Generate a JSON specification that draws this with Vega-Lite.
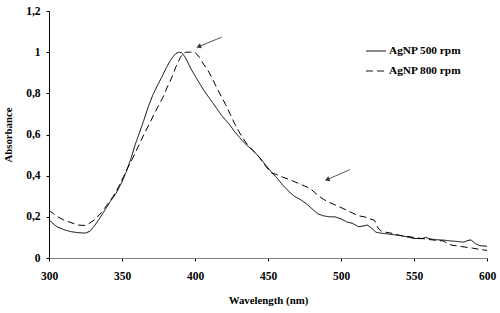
{
  "$schema": "https://vega.github.io/schema/vega-lite/v6.json",
  "autosize": {"type": "none"},
  "width": 438,
  "height": 247,
  "padding": {"left": 49, "top": 11, "right": 13, "bottom": 55},
  "background": "white",
  "config": {
    "view": {"stroke": null},
    "font": "Liberation Serif",
    "axis": {"grid": false, "labelFlush": false, "labelFont": "Liberation Serif", "labelFontWeight": "bold", "labelFontSize": 11.5, "labelColor": "#000", "titleFont": "Liberation Serif", "titleFontWeight": "bold", "titleFontSize": 10.8, "titleColor": "#000", "tickColor": "#000", "tickSize": 3}
  },
  "datasets": {
    "spectra": [
      {"wl": 300, "abs": 0.187, "s": "AgNP 500 rpm"}, {"wl": 303, "abs": 0.165, "s": "AgNP 500 rpm"}, {"wl": 306, "abs": 0.15, "s": "AgNP 500 rpm"}, {"wl": 310, "abs": 0.138, "s": "AgNP 500 rpm"}, {"wl": 315, "abs": 0.128, "s": "AgNP 500 rpm"}, {"wl": 320, "abs": 0.123, "s": "AgNP 500 rpm"}, {"wl": 325, "abs": 0.121, "s": "AgNP 500 rpm"}, {"wl": 328, "abs": 0.13, "s": "AgNP 500 rpm"}, {"wl": 331, "abs": 0.155, "s": "AgNP 500 rpm"}, {"wl": 334, "abs": 0.185, "s": "AgNP 500 rpm"}, {"wl": 338, "abs": 0.23, "s": "AgNP 500 rpm"}, {"wl": 342, "abs": 0.275, "s": "AgNP 500 rpm"}, {"wl": 346, "abs": 0.315, "s": "AgNP 500 rpm"}, {"wl": 350, "abs": 0.37, "s": "AgNP 500 rpm"}, {"wl": 353, "abs": 0.42, "s": "AgNP 500 rpm"}, {"wl": 356, "abs": 0.48, "s": "AgNP 500 rpm"}, {"wl": 359, "abs": 0.55, "s": "AgNP 500 rpm"}, {"wl": 362, "abs": 0.61, "s": "AgNP 500 rpm"}, {"wl": 365, "abs": 0.67, "s": "AgNP 500 rpm"}, {"wl": 368, "abs": 0.735, "s": "AgNP 500 rpm"}, {"wl": 371, "abs": 0.79, "s": "AgNP 500 rpm"}, {"wl": 374, "abs": 0.835, "s": "AgNP 500 rpm"}, {"wl": 377, "abs": 0.875, "s": "AgNP 500 rpm"}, {"wl": 380, "abs": 0.92, "s": "AgNP 500 rpm"}, {"wl": 383, "abs": 0.958, "s": "AgNP 500 rpm"}, {"wl": 385, "abs": 0.978, "s": "AgNP 500 rpm"}, {"wl": 387, "abs": 0.994, "s": "AgNP 500 rpm"}, {"wl": 389, "abs": 1.0, "s": "AgNP 500 rpm"}, {"wl": 391, "abs": 0.997, "s": "AgNP 500 rpm"}, {"wl": 393, "abs": 0.978, "s": "AgNP 500 rpm"}, {"wl": 395, "abs": 0.952, "s": "AgNP 500 rpm"}, {"wl": 397, "abs": 0.922, "s": "AgNP 500 rpm"}, {"wl": 400, "abs": 0.885, "s": "AgNP 500 rpm"}, {"wl": 403, "abs": 0.85, "s": "AgNP 500 rpm"}, {"wl": 406, "abs": 0.815, "s": "AgNP 500 rpm"}, {"wl": 409, "abs": 0.785, "s": "AgNP 500 rpm"}, {"wl": 412, "abs": 0.755, "s": "AgNP 500 rpm"}, {"wl": 415, "abs": 0.725, "s": "AgNP 500 rpm"}, {"wl": 418, "abs": 0.695, "s": "AgNP 500 rpm"}, {"wl": 421, "abs": 0.67, "s": "AgNP 500 rpm"}, {"wl": 424, "abs": 0.645, "s": "AgNP 500 rpm"}, {"wl": 427, "abs": 0.615, "s": "AgNP 500 rpm"}, {"wl": 430, "abs": 0.59, "s": "AgNP 500 rpm"}, {"wl": 433, "abs": 0.565, "s": "AgNP 500 rpm"}, {"wl": 436, "abs": 0.545, "s": "AgNP 500 rpm"}, {"wl": 440, "abs": 0.52, "s": "AgNP 500 rpm"}, {"wl": 444, "abs": 0.49, "s": "AgNP 500 rpm"}, {"wl": 448, "abs": 0.455, "s": "AgNP 500 rpm"}, {"wl": 452, "abs": 0.42, "s": "AgNP 500 rpm"}, {"wl": 456, "abs": 0.39, "s": "AgNP 500 rpm"}, {"wl": 460, "abs": 0.355, "s": "AgNP 500 rpm"}, {"wl": 464, "abs": 0.325, "s": "AgNP 500 rpm"}, {"wl": 468, "abs": 0.3, "s": "AgNP 500 rpm"}, {"wl": 472, "abs": 0.285, "s": "AgNP 500 rpm"}, {"wl": 476, "abs": 0.265, "s": "AgNP 500 rpm"}, {"wl": 480, "abs": 0.24, "s": "AgNP 500 rpm"}, {"wl": 484, "abs": 0.215, "s": "AgNP 500 rpm"}, {"wl": 488, "abs": 0.205, "s": "AgNP 500 rpm"}, {"wl": 492, "abs": 0.2, "s": "AgNP 500 rpm"}, {"wl": 496, "abs": 0.2, "s": "AgNP 500 rpm"}, {"wl": 500, "abs": 0.19, "s": "AgNP 500 rpm"}, {"wl": 504, "abs": 0.175, "s": "AgNP 500 rpm"}, {"wl": 508, "abs": 0.168, "s": "AgNP 500 rpm"}, {"wl": 512, "abs": 0.152, "s": "AgNP 500 rpm"}, {"wl": 515, "abs": 0.155, "s": "AgNP 500 rpm"}, {"wl": 518, "abs": 0.16, "s": "AgNP 500 rpm"}, {"wl": 521, "abs": 0.145, "s": "AgNP 500 rpm"}, {"wl": 524, "abs": 0.125, "s": "AgNP 500 rpm"}, {"wl": 528, "abs": 0.12, "s": "AgNP 500 rpm"}, {"wl": 532, "abs": 0.117, "s": "AgNP 500 rpm"}, {"wl": 536, "abs": 0.113, "s": "AgNP 500 rpm"}, {"wl": 540, "abs": 0.11, "s": "AgNP 500 rpm"}, {"wl": 545, "abs": 0.103, "s": "AgNP 500 rpm"}, {"wl": 550, "abs": 0.095, "s": "AgNP 500 rpm"}, {"wl": 555, "abs": 0.094, "s": "AgNP 500 rpm"}, {"wl": 558, "abs": 0.1, "s": "AgNP 500 rpm"}, {"wl": 561, "abs": 0.093, "s": "AgNP 500 rpm"}, {"wl": 565, "abs": 0.089, "s": "AgNP 500 rpm"}, {"wl": 570, "abs": 0.087, "s": "AgNP 500 rpm"}, {"wl": 575, "abs": 0.083, "s": "AgNP 500 rpm"}, {"wl": 580, "abs": 0.08, "s": "AgNP 500 rpm"}, {"wl": 584, "abs": 0.077, "s": "AgNP 500 rpm"}, {"wl": 587, "abs": 0.085, "s": "AgNP 500 rpm"}, {"wl": 589, "abs": 0.088, "s": "AgNP 500 rpm"}, {"wl": 592, "abs": 0.07, "s": "AgNP 500 rpm"}, {"wl": 595, "abs": 0.06, "s": "AgNP 500 rpm"}, {"wl": 600, "abs": 0.057, "s": "AgNP 500 rpm"},
      {"wl": 300, "abs": 0.232, "s": "AgNP 800 rpm"}, {"wl": 303, "abs": 0.215, "s": "AgNP 800 rpm"}, {"wl": 306, "abs": 0.2, "s": "AgNP 800 rpm"}, {"wl": 310, "abs": 0.185, "s": "AgNP 800 rpm"}, {"wl": 315, "abs": 0.172, "s": "AgNP 800 rpm"}, {"wl": 320, "abs": 0.16, "s": "AgNP 800 rpm"}, {"wl": 325, "abs": 0.158, "s": "AgNP 800 rpm"}, {"wl": 328, "abs": 0.17, "s": "AgNP 800 rpm"}, {"wl": 332, "abs": 0.19, "s": "AgNP 800 rpm"}, {"wl": 336, "abs": 0.222, "s": "AgNP 800 rpm"}, {"wl": 340, "abs": 0.26, "s": "AgNP 800 rpm"}, {"wl": 344, "abs": 0.3, "s": "AgNP 800 rpm"}, {"wl": 348, "abs": 0.35, "s": "AgNP 800 rpm"}, {"wl": 351, "abs": 0.395, "s": "AgNP 800 rpm"}, {"wl": 354, "abs": 0.44, "s": "AgNP 800 rpm"}, {"wl": 357, "abs": 0.48, "s": "AgNP 800 rpm"}, {"wl": 360, "abs": 0.525, "s": "AgNP 800 rpm"}, {"wl": 363, "abs": 0.57, "s": "AgNP 800 rpm"}, {"wl": 366, "abs": 0.615, "s": "AgNP 800 rpm"}, {"wl": 369, "abs": 0.655, "s": "AgNP 800 rpm"}, {"wl": 372, "abs": 0.7, "s": "AgNP 800 rpm"}, {"wl": 375, "abs": 0.74, "s": "AgNP 800 rpm"}, {"wl": 378, "abs": 0.78, "s": "AgNP 800 rpm"}, {"wl": 381, "abs": 0.83, "s": "AgNP 800 rpm"}, {"wl": 384, "abs": 0.875, "s": "AgNP 800 rpm"}, {"wl": 387, "abs": 0.93, "s": "AgNP 800 rpm"}, {"wl": 390, "abs": 0.975, "s": "AgNP 800 rpm"}, {"wl": 392, "abs": 0.995, "s": "AgNP 800 rpm"}, {"wl": 394, "abs": 1.0, "s": "AgNP 800 rpm"}, {"wl": 397, "abs": 1.0, "s": "AgNP 800 rpm"}, {"wl": 400, "abs": 1.0, "s": "AgNP 800 rpm"}, {"wl": 403, "abs": 0.975, "s": "AgNP 800 rpm"}, {"wl": 406, "abs": 0.94, "s": "AgNP 800 rpm"}, {"wl": 409, "abs": 0.91, "s": "AgNP 800 rpm"}, {"wl": 412, "abs": 0.87, "s": "AgNP 800 rpm"}, {"wl": 415, "abs": 0.825, "s": "AgNP 800 rpm"}, {"wl": 418, "abs": 0.785, "s": "AgNP 800 rpm"}, {"wl": 421, "abs": 0.745, "s": "AgNP 800 rpm"}, {"wl": 424, "abs": 0.7, "s": "AgNP 800 rpm"}, {"wl": 427, "abs": 0.655, "s": "AgNP 800 rpm"}, {"wl": 430, "abs": 0.615, "s": "AgNP 800 rpm"}, {"wl": 433, "abs": 0.58, "s": "AgNP 800 rpm"}, {"wl": 436, "abs": 0.55, "s": "AgNP 800 rpm"}, {"wl": 440, "abs": 0.52, "s": "AgNP 800 rpm"}, {"wl": 444, "abs": 0.49, "s": "AgNP 800 rpm"}, {"wl": 448, "abs": 0.45, "s": "AgNP 800 rpm"}, {"wl": 452, "abs": 0.415, "s": "AgNP 800 rpm"}, {"wl": 456, "abs": 0.405, "s": "AgNP 800 rpm"}, {"wl": 460, "abs": 0.393, "s": "AgNP 800 rpm"}, {"wl": 465, "abs": 0.38, "s": "AgNP 800 rpm"}, {"wl": 470, "abs": 0.365, "s": "AgNP 800 rpm"}, {"wl": 475, "abs": 0.35, "s": "AgNP 800 rpm"}, {"wl": 479, "abs": 0.337, "s": "AgNP 800 rpm"}, {"wl": 482, "abs": 0.318, "s": "AgNP 800 rpm"}, {"wl": 485, "abs": 0.3, "s": "AgNP 800 rpm"}, {"wl": 488, "abs": 0.285, "s": "AgNP 800 rpm"}, {"wl": 492, "abs": 0.27, "s": "AgNP 800 rpm"}, {"wl": 496, "abs": 0.258, "s": "AgNP 800 rpm"}, {"wl": 500, "abs": 0.245, "s": "AgNP 800 rpm"}, {"wl": 504, "abs": 0.232, "s": "AgNP 800 rpm"}, {"wl": 508, "abs": 0.218, "s": "AgNP 800 rpm"}, {"wl": 512, "abs": 0.205, "s": "AgNP 800 rpm"}, {"wl": 516, "abs": 0.2, "s": "AgNP 800 rpm"}, {"wl": 520, "abs": 0.19, "s": "AgNP 800 rpm"}, {"wl": 523, "abs": 0.183, "s": "AgNP 800 rpm"}, {"wl": 525, "abs": 0.15, "s": "AgNP 800 rpm"}, {"wl": 527, "abs": 0.133, "s": "AgNP 800 rpm"}, {"wl": 530, "abs": 0.126, "s": "AgNP 800 rpm"}, {"wl": 535, "abs": 0.12, "s": "AgNP 800 rpm"}, {"wl": 540, "abs": 0.11, "s": "AgNP 800 rpm"}, {"wl": 545, "abs": 0.105, "s": "AgNP 800 rpm"}, {"wl": 550, "abs": 0.1, "s": "AgNP 800 rpm"}, {"wl": 555, "abs": 0.095, "s": "AgNP 800 rpm"}, {"wl": 560, "abs": 0.09, "s": "AgNP 800 rpm"}, {"wl": 565, "abs": 0.086, "s": "AgNP 800 rpm"}, {"wl": 570, "abs": 0.083, "s": "AgNP 800 rpm"}, {"wl": 573, "abs": 0.07, "s": "AgNP 800 rpm"}, {"wl": 576, "abs": 0.062, "s": "AgNP 800 rpm"}, {"wl": 580, "abs": 0.058, "s": "AgNP 800 rpm"}, {"wl": 585, "abs": 0.053, "s": "AgNP 800 rpm"}, {"wl": 590, "abs": 0.048, "s": "AgNP 800 rpm"}, {"wl": 595, "abs": 0.042, "s": "AgNP 800 rpm"}, {"wl": 600, "abs": 0.037, "s": "AgNP 800 rpm"}
    ],
    "arrows": [
      {"x1": 418.3, "y1": 1.073, "x2": 402.5, "y2": 1.027, "ang": 340},
      {"x1": 506, "y1": 0.429, "x2": 490.5, "y2": 0.381, "ang": 338}
    ]
  },
  "layer": [
    {
      "data": {"name": "spectra"},
      "mark": {"type": "line", "color": "#000", "strokeWidth": 1},
      "encoding": {
        "x": {"field": "wl", "type": "quantitative", "scale": {"domain": [300, 600], "nice": false}, "axis": {"values": [300, 350, 400, 450, 500, 550, 600], "title": "Wavelength (nm)", "domainColor": "#808080", "labelPadding": 9, "titlePadding": 13}},
        "y": {"field": "abs", "type": "quantitative", "scale": {"domain": [0, 1.2], "nice": false}, "axis": {"values": [0, 0.2, 0.4, 0.6, 0.8, 1, 1.2], "labelExpr": "replace(toString(datum.value), '.', ',')", "title": "Absorbance", "domainColor": "#000", "labelPadding": 6, "titlePadding": 12}},
        "strokeDash": {"field": "s", "type": "nominal", "scale": {"domain": ["AgNP 500 rpm", "AgNP 800 rpm"], "range": [[1, 0], [7, 4]]}, "legend": {"title": null, "orient": "none", "legendX": 316, "legendY": 29, "symbolType": "stroke", "symbolSize": 400, "symbolStrokeColor": "#666", "symbolStrokeWidth": 1.5, "labelFont": "Liberation Serif", "labelFontWeight": "bold", "labelFontSize": 11.3, "labelColor": "#000", "labelOffset": 2, "rowPadding": 3}}
      }
    },
    {
      "data": {"name": "arrows"},
      "mark": {"type": "rule", "color": "#555", "strokeWidth": 1},
      "encoding": {
        "x": {"field": "x1", "type": "quantitative"},
        "y": {"field": "y1", "type": "quantitative"},
        "x2": {"field": "x2"},
        "y2": {"field": "y2"}
      }
    },
    {
      "data": {"name": "arrows"},
      "mark": {"type": "point", "shape": "triangle-left", "filled": true, "color": "#333", "size": 30, "opacity": 1},
      "encoding": {
        "x": {"field": "x2", "type": "quantitative"},
        "y": {"field": "y2", "type": "quantitative"},
        "angle": {"field": "ang", "type": "quantitative", "scale": null}
      }
    }
  ]
}
